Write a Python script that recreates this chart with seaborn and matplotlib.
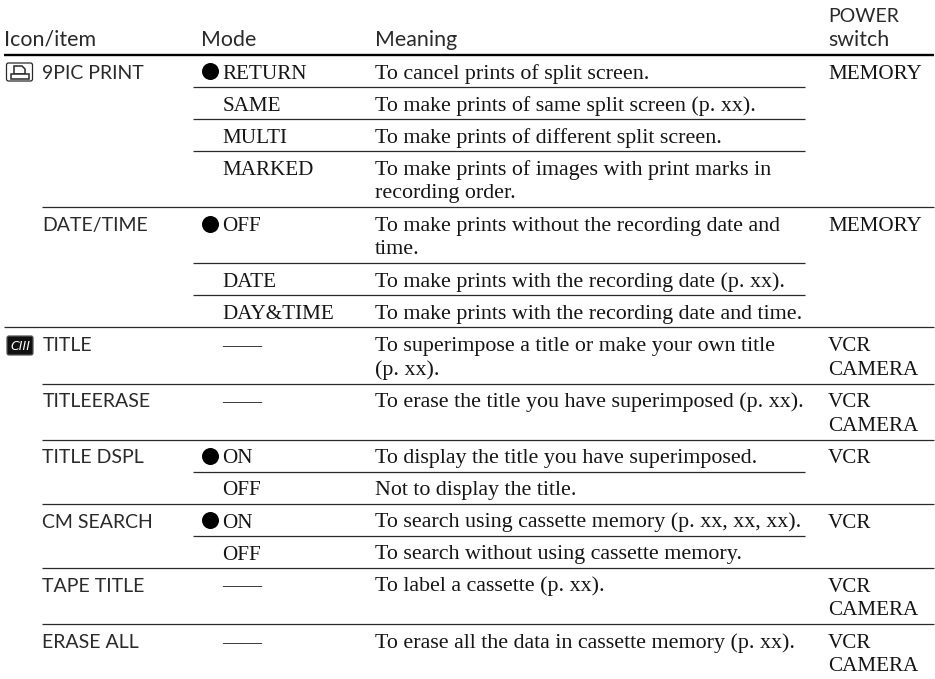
import matplotlib
matplotlib.use('Agg')
import matplotlib.pyplot as plt
from matplotlib.patches import FancyBboxPatch, Polygon, Rectangle
import seaborn as sns

# filas de la tabla
items = ['9PIC PRINT', '', '', '', 'DATE/TIME', '', '', 'TITLE', 'TITLEERASE',
         'TITLE DSPL', '', 'CM SEARCH', '', 'TAPE TITLE', 'ERASE ALL']
modes = ['RETURN', 'SAME', 'MULTI', 'MARKED', 'OFF', 'DATE', 'DAY&TIME', '——', '——',
         'ON', 'OFF', 'ON', 'OFF', '——', '——']
defaults = [1, 0, 0, 0, 1, 0, 0, 0, 0, 1, 0, 1, 0, 0, 0]
meanings = ['To cancel prints of split screen.',
            'To make prints of same split screen (p. xx).',
            'To make prints of different split screen.',
            'To make prints of images with print marks in\nrecording order.',
            'To make prints without the recording date and\ntime.',
            'To make prints with the recording date (p. xx).',
            'To make prints with the recording date and time.',
            'To superimpose a title or make your own title\n(p. xx).',
            'To erase the title you have superimposed (p. xx).',
            'To display the title you have superimposed.',
            'Not to display the title.',
            'To search using cassette memory (p. xx, xx, xx).',
            'To search without using cassette memory.',
            'To label a cassette (p. xx).',
            'To erase all the data in cassette memory (p. xx).']
power = ['MEMORY', '', '', '', 'MEMORY', '', '', 'VCR\nCAMERA', 'VCR\nCAMERA',
         'VCR', '', 'VCR', '', 'VCR\nCAMERA', 'VCR\nCAMERA']

SANS = 'Lato'
SERIF = 'Liberation Serif'
TS = 15.85   # frases
CS = 15.2    # mayusculas
HS = 14
HL = 15.4    # cabecera en minusculas
STEP = 23.6
INK = '#151515'
GRIS = '#2a2a2a'

sns.set_theme(style='white')
fig, ax = plt.subplots(figsize=(9.35, 6.79), dpi=100)
ax.set_position([0, 0, 1, 1])
ax.set_xlim(0, 935)
ax.set_ylim(679, 0)
ax.axis('off')


def put(x, y, s, family, size, color=INK):
    # cada linea por separado para controlar la linea base
    for k, line in enumerate(s.split('\n')):
        ax.text(x, y + k * STEP, line, family=family, fontsize=size, va='baseline', color=color)


put(4, 46, 'Icon/item', SANS, HL, GRIS)
put(201, 46, 'Mode', SANS, HL, GRIS)
put(375, 46, 'Meaning', SANS, HL, GRIS)
put(828, 22, 'POWER', SANS, HS, GRIS)
put(828, 46, 'switch', SANS, HL, GRIS)
ax.hlines(55, 4, 934, color='black', lw=1.7)

y = 55.0
bullets_x, bullets_y = [], []
for i in range(len(modes)):
    nlines = max(meanings[i].count('\n'), power[i].count('\n')) + 1
    base = y + 23.7
    if items[i]:
        put(42.5, base, items[i], SANS, HS, GRIS)
    put(222.5, base, modes[i], SERIF, 14.4 if modes[i] == '——' else CS)
    if defaults[i]:
        bullets_x.append(209.5)
        bullets_y.append(base - 7.3)
    put(375, base, meanings[i], SERIF, TS)
    if power[i]:
        put(828, base, power[i], SERIF, CS)
    y += 32 if nlines == 1 else 56.2
    if i < len(modes) - 1:
        if items[i + 1]:
            x0 = 4 if i + 1 == 7 else 42
            ax.hlines(y, x0, 934, color=GRIS, lw=0.9)
        else:
            ax.hlines(y, 193, 805, color=GRIS, lw=0.9)

sns.scatterplot(x=bullets_x, y=bullets_y, s=150, color='black', linewidth=0, ax=ax, clip_on=False)

# iconos
ax.add_patch(FancyBboxPatch((6.5, 63), 26, 18, boxstyle='round,pad=0,rounding_size=2', fc='white', ec=GRIS, lw=0.9))
ax.add_patch(Polygon([(14, 74), (14, 66), (22, 66), (25, 69), (25, 74)], fc='white', ec=GRIS, lw=1.1))
ax.add_patch(Rectangle((10.5, 74), 18, 4.5, fc='white', ec=GRIS, lw=1.1))
ax.add_patch(FancyBboxPatch((7, 336), 26, 19, boxstyle='round,pad=0,rounding_size=2', fc='#111111', ec='#555555', lw=0.9))
ax.text(20, 346, 'CIII', family='DejaVu Sans', fontsize=9, style='italic', color='white', ha='center', va='center')

fig.savefig('out.png', dpi=100)
